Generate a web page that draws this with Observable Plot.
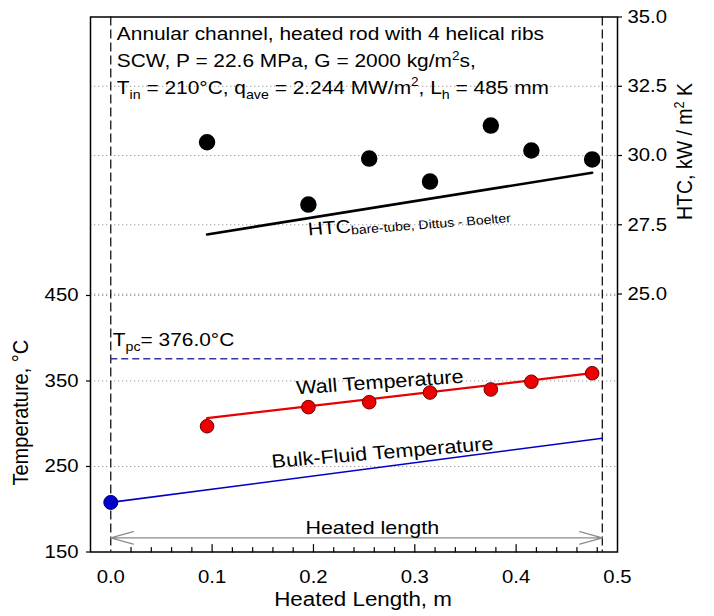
<!DOCTYPE html>
<html>
<head>
<meta charset="utf-8">
<script src="https://cdn.jsdelivr.net/npm/d3@7"></script>
<script src="https://cdn.jsdelivr.net/npm/@observablehq/plot@0.6"></script>
<style>
html, body { margin: 0; padding: 0; background: #fff; overflow: hidden; }
#chart svg text { font-family: "Liberation Sans", Arial, sans-serif; }
#chart svg g[aria-label="x-axis tick label"],
#chart svg g[aria-label="y-axis tick label"] { font-size: 18px; }
</style>
</head>
<body>
<div id="chart"></div>
<script>
// ---------------- data ----------------
const tcX       = [0.095, 0.195, 0.255, 0.315, 0.375, 0.415, 0.475];     // thermocouple positions, m
const htcExp    = [30.48, 28.23, 29.89, 29.06, 31.08, 30.18, 29.86];     // HTC, kW/m2K
const wallTemp  = [297.1, 319.4, 325.2, 336.5, 340.1, 349.1, 359.1];     // wall temperature, °C
const wallFitX  = [0.095, 0.475];
const wallFitT  = [306.5, 359.1];
const bulkX     = [0, 0.485];
const bulkT     = [208, 283.1];
const inletX    = [0];
const inletT    = [208];
const dbX       = [0.095, 0.475];
const dbHTC     = [27.15, 29.38];
const heatedEnds = [0, 0.485];
const tpcValue  = [376.0];
const arrowT    = [166.6];

const tempTicks = [150, 250, 350, 450];
const tempGrid  = [250, 350, 450];
const htcTicks  = [25.0, 27.5, 30.0, 32.5, 35.0];
const htcGrid   = [25.0, 27.5, 30.0, 32.5];
const xTicks    = [0.0, 0.1, 0.2, 0.3, 0.4, 0.5];
const xMajorIn  = [0.1, 0.2, 0.3, 0.4];
const xMinor    = [0.02, 0.04, 0.06, 0.08, 0.12, 0.14, 0.16, 0.18, 0.22, 0.24, 0.26, 0.28,
                   0.32, 0.34, 0.36, 0.38, 0.42, 0.44, 0.46, 0.48];

// text annotations (positions in data units of the x / temperature scales)
const titleLines = [
  "Annular channel, heated rod with 4 helical ribs",
  "SCW, P = 22.6 MPa, G = 2000 kg/m^{2}s,",
  "T_{in} = 210°C, q_{ave} = 2.244 MW/m^{2}, L_{h} = 485 mm"
];
const titleX = [0.006, 0.006, 0.006];
const titleY = [749.1, 717.0, 685.9];

const seriesLabels = ["Wall Temperature", "Bulk-Fluid Temperature"];
const seriesLabelX = [0.266, 0.2687];
const seriesLabelY = [341.2, 259.0];
const seriesLabelRot = [-4.5, -5.3];

// ---------------- HTC <-> temperature mapping (secondary axis) ----------------
const T_TOP = 775.7, T_PER_HTC = 32.4;
const htcToT = h => T_TOP - (35 - h) * T_PER_HTC;
const tToHtc = t => 35 - (T_TOP - t) / T_PER_HTC;

const htcPoints = tcX.map((x, i) => ({x, y: htcToT(htcExp[i])}));
const wallPoints = tcX.map((x, i) => ({x, y: wallTemp[i]}));
const wallFit = wallFitX.map((x, i) => ({x, y: wallFitT[i]}));
const bulk = bulkX.map((x, i) => ({x, y: bulkT[i]}));
const inlet = inletX.map((x, i) => ({x, y: inletT[i]}));
const db = dbX.map((x, i) => ({x, y: htcToT(dbHTC[i])}));
const mid = (heatedEnds[0] + heatedEnds[1]) / 2;
const arrows = heatedEnds.map(e => ({x1: mid, x2: e, y: arrowT[0]}));
const titles = titleLines.map((t, i) => ({t, x: titleX[i], y: titleY[i]}));

const tickShape = {draw(ctx, l) { ctx.moveTo(0, 0); ctx.lineTo(0, -l); }};
const FONT = 18.5;

const svg = Plot.plot({
  width: 714,
  height: 616,
  marginLeft: 90,
  marginRight: 97,
  marginTop: 16.5,
  marginBottom: 64.5,
  style: {fontFamily: "'Liberation Sans', Arial, sans-serif", background: "#fff", color: "#000"},
  x: {domain: [-0.02, 0.5]},
  y: {domain: [150, T_TOP]},
  marks: [
    // grid
    Plot.ruleY(tempGrid, {stroke: "#9a9a9a", strokeDasharray: "1.3,2.7", strokeWidth: 1}),
    Plot.ruleY(htcGrid.map(htcToT), {stroke: "#9a9a9a", strokeDasharray: "1.3,2.7", strokeWidth: 1}),
    // heated-length limits
    Plot.ruleX(heatedEnds, {stroke: "#000", strokeDasharray: "9,4", strokeWidth: 1.2}),
    // pseudocritical temperature
    Plot.ruleY(tpcValue, {x1: heatedEnds[0], x2: heatedEnds[1], stroke: "#3434a4", strokeDasharray: "7,4", strokeWidth: 1.3}),
    // heated length arrow
    Plot.arrow(arrows, {x1: "x1", x2: "x2", y1: "y", y2: "y", stroke: "#8c8c8c", strokeWidth: 1.3, headLength: 27, headAngle: 31}),
    Plot.text(["Heated length"], {x: [0.258], y: [171.6], fontSize: 19, lineAnchor: "bottom", textAnchor: "middle", fill: "#000"}),
    // bulk fluid
    Plot.line(bulk, {x: "x", y: "y", stroke: "#0000c8", strokeWidth: 1.6}),
    Plot.dot(inlet, {x: "x", y: "y", r: 7, fill: "#0000cc", stroke: "#00006a", strokeWidth: 1}),
    // wall temperature
    Plot.line(wallFit, {x: "x", y: "y", stroke: "#e60000", strokeWidth: 2.2}),
    Plot.dot(wallPoints, {x: "x", y: "y", r: 6.8, fill: "#ee0000", stroke: "#6a0000", strokeWidth: 1}),
    // HTC
    Plot.line(db, {x: "x", y: "y", stroke: "#000", strokeWidth: 2.6}),
    Plot.dot(htcPoints, {x: "x", y: "y", r: 7.5, fill: "#000", stroke: "#000"}),
    // frame & ticks
    Plot.frame({stroke: "#000", strokeWidth: 1.5}),
    Plot.vector(xMinor, {x: d => d, frameAnchor: "bottom", length: 4.5, anchor: "start", shape: tickShape, stroke: "#000", strokeWidth: 1.2}),
    Plot.vector(xMajorIn, {x: d => d, frameAnchor: "bottom", length: 7.5, anchor: "start", shape: tickShape, stroke: "#000", strokeWidth: 1.2}),
    Plot.axisX({ticks: xTicks, tickFormat: d => d.toFixed(1), tickSize: 0, tickPadding: 18, label: null, fontSize: 18}),
    Plot.axisY({anchor: "left", ticks: tempTicks, tickFormat: d => String(d), tickSize: 4, tickPadding: 8, label: null, fontSize: 18, strokeWidth: 1.2}),
    Plot.axisY({anchor: "right", ticks: htcTicks.map(htcToT), tickFormat: t => tToHtc(t).toFixed(1), tickSize: 4, tickPadding: 6, label: null, fontSize: 18, strokeWidth: 1.2}),
    // axis titles
    Plot.text(["Heated Length, m"], {x: [0.2489], y: [87.4], fontSize: 19.8, lineAnchor: "bottom", textAnchor: "middle", fill: "#000"}),
    Plot.text(["Temperature, °C"], {x: [-0.0812], y: [313], rotate: -90, fontSize: 20, lineAnchor: "bottom", textAnchor: "middle", fill: "#000"}),
    Plot.text(["HTC, kW / m^{2} K"], {x: [0.574], y: [618.4], rotate: -90, fontSize: 19.5, lineAnchor: "bottom", textAnchor: "middle", fill: "#000"}),
    // annotations
    Plot.text(titles, {x: "x", y: "y", text: "t", fontSize: FONT, lineAnchor: "bottom", textAnchor: "start", fill: "#000"}),
    Plot.text(["T_{pc}= 376.0°C"], {x: [0.002], y: [391.5], fontSize: FONT, lineAnchor: "bottom", textAnchor: "start", fill: "#000"}),
    Plot.text(seriesLabels, {x: seriesLabelX, y: seriesLabelY, rotate: (d, i) => seriesLabelRot[i], fontSize: 19.1, lineAnchor: "bottom", textAnchor: "middle", fill: "#000"}),
    Plot.text(["HTC_{bare-tube, Dittus - Boelter}"], {x: [0.195], y: [htcToT(27.11)], rotate: -5, fontSize: 18.5, lineAnchor: "bottom", textAnchor: "start", fill: "#000"})
  ]
});

document.getElementById("chart").append(svg);

// ---- sub/superscript markup -> tspans ----
svg.querySelectorAll("text").forEach(t => {
  const s = t.textContent;
  if (!/[_^]\{/.test(s) || t.querySelector("tspan")) return;
  const fs = parseFloat(getComputedStyle(t).fontSize);
  const isHTC = s.startsWith("HTC_");
  t.textContent = "";
  let shift = 0;
  const re = /([_^])\{([^}]*)\}|([^_^]+)/g;
  let m;
  while ((m = re.exec(s))) {
    const sp = document.createElementNS("http://www.w3.org/2000/svg", "tspan");
    let target = 0, size = null;
    if (m[1] === "_") { target = isHTC ? fs * 0.12 : fs * 0.3; size = fs * (isHTC ? 0.67 : 0.68); sp.textContent = m[2]; }
    else if (m[1] === "^") { target = -fs * 0.4; size = fs * 0.65; sp.textContent = m[2]; }
    else { sp.textContent = m[3]; }
    if (size) sp.setAttribute("font-size", size);
    if (target !== shift) sp.setAttribute("dy", target - shift);
    shift = target;
    t.appendChild(sp);
  }
});

// ---- horizontal stretch of lettering, about each text's anchor ----
const K = 1.13;
svg.querySelectorAll("text").forEach(t => {
  const c = t.getCTM(), pc = t.parentNode.getCTM();
  if (!c || !pc) return;
  const M = new DOMMatrix([c.a, c.b, c.c, c.d, c.e, c.f]);
  const P = new DOMMatrix([pc.a, pc.b, pc.c, pc.d, pc.e, pc.f]);
  const ax = parseFloat(t.getAttribute("x")) || 0, ay = parseFloat(t.getAttribute("y")) || 0;
  const p = M.transformPoint(new DOMPoint(ax, ay));
  const S = new DOMMatrix().translate(p.x, p.y).scale(K, 1).translate(-p.x, -p.y);
  const L = P.inverse().multiply(S).multiply(M);
  t.setAttribute("transform", `matrix(${L.a},${L.b},${L.c},${L.d},${L.e},${L.f})`);
});
</script>
</body>
</html>
